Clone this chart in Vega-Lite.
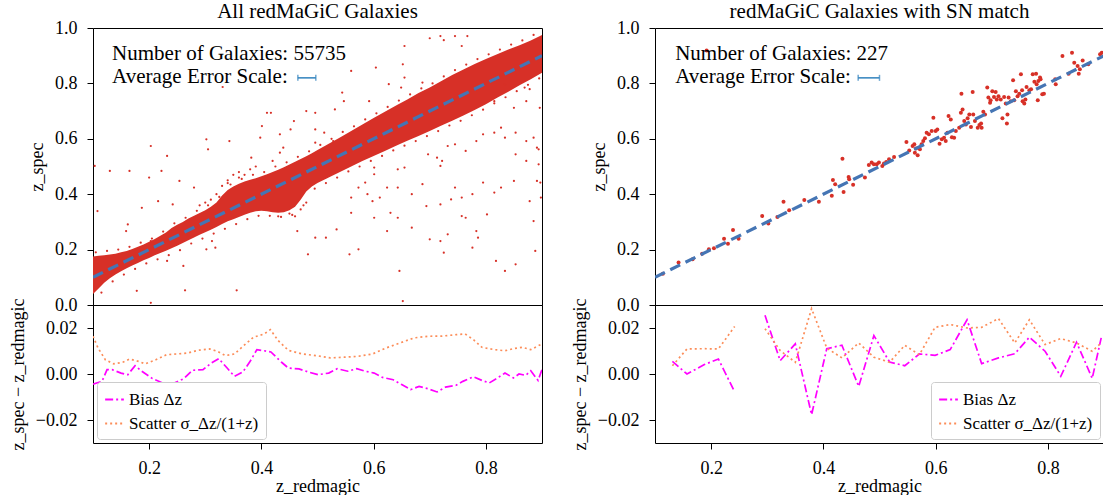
{
"$schema": "https://vega.github.io/schema/vega-lite/v6.json",
"padding": {"left": 8, "top": 0, "right": 0, "bottom": 0},
"config": {
  "font": "Liberation Serif",
  "view": {"stroke": "black", "strokeWidth": 1},
  "axis": {"grid": false, "domain": false, "tickColor": "black", "tickSize": 6, "tickWidth": 1, "labelPadding": 10, "labelFont": "Liberation Serif", "labelFontSize": 18, "labelColor": "black", "titleFont": "Liberation Serif", "titleFontSize": 18, "titleFontWeight": "normal", "titleColor": "black", "titlePadding": 8},
  "title": {"font": "Liberation Serif", "fontSize": 21, "fontWeight": "normal", "color": "black", "offset": -3},
  "legend": {"symbolType": "stroke", "symbolStrokeWidth": 2, "symbolSize": 350, "labelFont": "Liberation Serif", "labelFontSize": 17, "labelColor": "black", "labelLimit": 400, "fillColor": "white", "strokeColor": "#cccccc", "padding": 7, "cornerRadius": 3, "offset": 4, "rowPadding": 5}
},
"datasets": {
  "envL": [
    {"x":0.10,"lo":0.040,"hi":0.175},{"x":0.11,"lo":0.060,"hi":0.178},{"x":0.12,"lo":0.080,"hi":0.180},{"x":0.13,"lo":0.097,"hi":0.182},
    {"x":0.14,"lo":0.110,"hi":0.185},{"x":0.15,"lo":0.122,"hi":0.190},{"x":0.16,"lo":0.133,"hi":0.195},{"x":0.17,"lo":0.143,"hi":0.202},
    {"x":0.18,"lo":0.152,"hi":0.210},{"x":0.19,"lo":0.162,"hi":0.218},{"x":0.20,"lo":0.170,"hi":0.228},{"x":0.21,"lo":0.180,"hi":0.238},
    {"x":0.22,"lo":0.188,"hi":0.250},{"x":0.23,"lo":0.196,"hi":0.262},{"x":0.24,"lo":0.205,"hi":0.278},{"x":0.25,"lo":0.214,"hi":0.290},
    {"x":0.26,"lo":0.224,"hi":0.300},{"x":0.27,"lo":0.234,"hi":0.312},{"x":0.28,"lo":0.244,"hi":0.322},{"x":0.29,"lo":0.254,"hi":0.332},
    {"x":0.30,"lo":0.263,"hi":0.342},{"x":0.31,"lo":0.272,"hi":0.355},{"x":0.32,"lo":0.282,"hi":0.370},{"x":0.33,"lo":0.292,"hi":0.395},
    {"x":0.34,"lo":0.302,"hi":0.415},{"x":0.35,"lo":0.310,"hi":0.428},{"x":0.36,"lo":0.318,"hi":0.438},{"x":0.37,"lo":0.326,"hi":0.446},
    {"x":0.38,"lo":0.333,"hi":0.452},{"x":0.39,"lo":0.338,"hi":0.458},{"x":0.40,"lo":0.340,"hi":0.465},{"x":0.41,"lo":0.338,"hi":0.472},
    {"x":0.42,"lo":0.335,"hi":0.480},{"x":0.43,"lo":0.333,"hi":0.488},{"x":0.44,"lo":0.335,"hi":0.497},{"x":0.45,"lo":0.342,"hi":0.507},
    {"x":0.46,"lo":0.355,"hi":0.517},{"x":0.47,"lo":0.380,"hi":0.527},{"x":0.48,"lo":0.410,"hi":0.537},{"x":0.49,"lo":0.428,"hi":0.548},
    {"x":0.50,"lo":0.440,"hi":0.560},{"x":0.52,"lo":0.460,"hi":0.582},{"x":0.54,"lo":0.480,"hi":0.605},{"x":0.56,"lo":0.500,"hi":0.628},
    {"x":0.58,"lo":0.520,"hi":0.652},{"x":0.60,"lo":0.538,"hi":0.675},{"x":0.62,"lo":0.556,"hi":0.698},{"x":0.64,"lo":0.575,"hi":0.720},
    {"x":0.66,"lo":0.593,"hi":0.742},{"x":0.68,"lo":0.610,"hi":0.765},{"x":0.70,"lo":0.628,"hi":0.785},{"x":0.72,"lo":0.647,"hi":0.808},
    {"x":0.74,"lo":0.665,"hi":0.830},{"x":0.76,"lo":0.684,"hi":0.850},{"x":0.78,"lo":0.704,"hi":0.870},{"x":0.80,"lo":0.725,"hi":0.888},
    {"x":0.82,"lo":0.748,"hi":0.905},{"x":0.84,"lo":0.770,"hi":0.922},{"x":0.86,"lo":0.793,"hi":0.938},{"x":0.88,"lo":0.815,"hi":0.955},
    {"x":0.90,"lo":0.838,"hi":0.975}
  ],
  "ptsL": [
    {"x":0.655,"y":0.935},{"x":0.700,"y":0.963},{"x":0.719,"y":0.971},{"x":0.745,"y":0.971},{"x":0.767,"y":0.971},{"x":0.725,"y":0.956},
    {"x":0.757,"y":0.935},{"x":0.604,"y":0.857},{"x":0.652,"y":0.869},{"x":0.560,"y":0.845},{"x":0.544,"y":0.767},{"x":0.547,"y":0.736},
    {"x":0.480,"y":0.700},{"x":0.410,"y":0.694},{"x":0.417,"y":0.694},{"x":0.531,"y":0.706},{"x":0.592,"y":0.736},{"x":0.331,"y":0.787},
    {"x":0.649,"y":0.785},{"x":0.496,"y":0.634},{"x":0.512,"y":0.622},{"x":0.573,"y":0.628},{"x":0.601,"y":0.496},{"x":0.585,"y":0.442},
    {"x":0.601,"y":0.472},{"x":0.589,"y":0.400},{"x":0.643,"y":0.490},{"x":0.655,"y":0.496},{"x":0.697,"y":0.544},{"x":0.713,"y":0.532},
    {"x":0.722,"y":0.520},{"x":0.719,"y":0.502},{"x":0.732,"y":0.574},{"x":0.745,"y":0.580},{"x":0.764,"y":0.556},{"x":0.783,"y":0.592},
    {"x":0.795,"y":0.616},{"x":0.815,"y":0.622},{"x":0.834,"y":0.604},{"x":0.853,"y":0.622},{"x":0.872,"y":0.592},{"x":0.885,"y":0.604},
    {"x":0.891,"y":0.568},{"x":0.853,"y":0.544},{"x":0.872,"y":0.520},{"x":0.894,"y":0.508},{"x":0.891,"y":0.448},{"x":0.850,"y":0.448},
    {"x":0.827,"y":0.424},{"x":0.815,"y":0.406},{"x":0.795,"y":0.442},{"x":0.776,"y":0.400},{"x":0.757,"y":0.388},{"x":0.745,"y":0.424},
    {"x":0.719,"y":0.363},{"x":0.687,"y":0.436},{"x":0.668,"y":0.400},{"x":0.643,"y":0.424},{"x":0.624,"y":0.424},{"x":0.611,"y":0.388},
    {"x":0.598,"y":0.375},{"x":0.573,"y":0.424},{"x":0.560,"y":0.388},{"x":0.694,"y":0.357},{"x":0.738,"y":0.381},{"x":0.802,"y":0.327},
    {"x":0.764,"y":0.315},{"x":0.757,"y":0.321},{"x":0.732,"y":0.255},{"x":0.783,"y":0.267},{"x":0.700,"y":0.237},{"x":0.719,"y":0.231},
    {"x":0.643,"y":0.315},{"x":0.668,"y":0.279},{"x":0.630,"y":0.333},{"x":0.601,"y":0.315},{"x":0.560,"y":0.333},{"x":0.534,"y":0.273},
    {"x":0.496,"y":0.243},{"x":0.515,"y":0.243},{"x":0.573,"y":0.201},{"x":0.557,"y":0.183},{"x":0.624,"y":0.267},{"x":0.646,"y":0.123},
    {"x":0.652,"y":0.014},{"x":0.725,"y":0.189},{"x":0.776,"y":0.207},{"x":0.786,"y":0.243},{"x":0.818,"y":0.159},{"x":0.834,"y":0.123},
    {"x":0.853,"y":0.147},{"x":0.888,"y":0.195},{"x":0.885,"y":0.303},{"x":0.878,"y":0.375},{"x":0.896,"y":0.712},{"x":0.894,"y":0.562},
    {"x":0.897,"y":0.442},{"x":0.898,"y":0.388},{"x":0.401,"y":0.646},{"x":0.398,"y":0.604},{"x":0.433,"y":0.616},{"x":0.452,"y":0.634},
    {"x":0.439,"y":0.568},{"x":0.496,"y":0.586},{"x":0.528,"y":0.592},{"x":0.302,"y":0.598},{"x":0.305,"y":0.562},{"x":0.232,"y":0.538},
    {"x":0.222,"y":0.484},{"x":0.203,"y":0.574},{"x":0.187,"y":0.351},{"x":0.165,"y":0.484},{"x":0.162,"y":0.291},{"x":0.203,"y":0.231},
    {"x":0.200,"y":0.460},{"x":0.159,"y":0.267},{"x":0.232,"y":0.159},{"x":0.235,"y":0.231},{"x":0.261,"y":0.141},{"x":0.264,"y":0.053},
    {"x":0.178,"y":0.051},{"x":0.203,"y":0.008},{"x":0.130,"y":0.484},{"x":0.108,"y":0.339},{"x":0.103,"y":0.502},{"x":0.356,"y":0.053},
    {"x":0.318,"y":0.207},{"x":0.267,"y":0.255},{"x":0.242,"y":0.363},{"x":0.280,"y":0.424},{"x":0.254,"y":0.448},{"x":0.216,"y":0.375},
    {"x":0.356,"y":0.351},{"x":0.382,"y":0.375},{"x":0.343,"y":0.592},{"x":0.382,"y":0.532},{"x":0.302,"y":0.201},{"x":0.312,"y":0.231},
    {"x":0.850,"y":0.712},{"x":0.827,"y":0.640},{"x":0.815,"y":0.736},{"x":0.869,"y":0.785},{"x":0.878,"y":0.779},{"x":0.834,"y":0.797},
    {"x":0.872,"y":0.736},{"x":0.687,"y":0.803},{"x":0.627,"y":0.797},{"x":0.655,"y":0.821},{"x":0.496,"y":0.694},{"x":0.458,"y":0.664},
    {"x":0.433,"y":0.550},{"x":0.420,"y":0.520},{"x":0.464,"y":0.267},{"x":0.483,"y":0.183},
    {"x":0.29,"y":0.360},{"x":0.30,"y":0.370},{"x":0.31,"y":0.380},{"x":0.32,"y":0.400},{"x":0.33,"y":0.430},{"x":0.34,"y":0.450},
    {"x":0.35,"y":0.470},{"x":0.36,"y":0.480},{"x":0.37,"y":0.470},{"x":0.38,"y":0.490},{"x":0.39,"y":0.500},{"x":0.36,"y":0.460},
    {"x":0.34,"y":0.440},{"x":0.43,"y":0.320},{"x":0.45,"y":0.330},{"x":0.47,"y":0.345},{"x":0.48,"y":0.370},{"x":0.46,"y":0.320},
    {"x":0.105,"y":0.190},{"x":0.125,"y":0.195},{"x":0.145,"y":0.200},{"x":0.165,"y":0.210},{"x":0.185,"y":0.225},{"x":0.205,"y":0.240},
    {"x":0.225,"y":0.265},{"x":0.245,"y":0.295},{"x":0.265,"y":0.315},{"x":0.285,"y":0.340},{"x":0.305,"y":0.360},{"x":0.325,"y":0.390},
    {"x":0.345,"y":0.435},{"x":0.365,"y":0.455},{"x":0.385,"y":0.470},{"x":0.405,"y":0.480},{"x":0.425,"y":0.500},{"x":0.445,"y":0.515},
    {"x":0.465,"y":0.535},{"x":0.485,"y":0.555},{"x":0.505,"y":0.578},{"x":0.525,"y":0.600},{"x":0.545,"y":0.625},{"x":0.565,"y":0.645},
    {"x":0.585,"y":0.670},{"x":0.605,"y":0.692},{"x":0.625,"y":0.715},{"x":0.645,"y":0.738},{"x":0.665,"y":0.760},{"x":0.685,"y":0.782},
    {"x":0.705,"y":0.800},{"x":0.725,"y":0.825},{"x":0.745,"y":0.848},{"x":0.765,"y":0.868},{"x":0.785,"y":0.888},{"x":0.805,"y":0.905},
    {"x":0.825,"y":0.922},{"x":0.845,"y":0.940},{"x":0.865,"y":0.955},{"x":0.885,"y":0.975},
    {"x":0.115,"y":0.045},{"x":0.135,"y":0.085},{"x":0.155,"y":0.110},{"x":0.175,"y":0.130},{"x":0.195,"y":0.150},{"x":0.215,"y":0.165},
    {"x":0.235,"y":0.180},{"x":0.255,"y":0.198},{"x":0.275,"y":0.222},{"x":0.295,"y":0.240},{"x":0.315,"y":0.258},{"x":0.335,"y":0.275},
    {"x":0.355,"y":0.292},{"x":0.375,"y":0.310},{"x":0.395,"y":0.322},{"x":0.415,"y":0.322},{"x":0.435,"y":0.318},{"x":0.455,"y":0.325},
    {"x":0.475,"y":0.360},{"x":0.495,"y":0.420},{"x":0.515,"y":0.440},{"x":0.535,"y":0.460},{"x":0.555,"y":0.482},{"x":0.575,"y":0.500},
    {"x":0.595,"y":0.520},{"x":0.615,"y":0.538},{"x":0.635,"y":0.558},{"x":0.655,"y":0.575},{"x":0.675,"y":0.592},{"x":0.695,"y":0.610},
    {"x":0.715,"y":0.628},{"x":0.735,"y":0.648},{"x":0.755,"y":0.665},{"x":0.775,"y":0.685},{"x":0.795,"y":0.705},{"x":0.815,"y":0.728},
    {"x":0.835,"y":0.750},{"x":0.855,"y":0.772},{"x":0.875,"y":0.795},{"x":0.895,"y":0.818}
  ],
  "ptsR": [
    {"x":0.114,"y":0.113},{"x":0.142,"y":0.153},{"x":0.167,"y":0.165},{"x":0.184,"y":0.185},{"x":0.196,"y":0.201},{"x":0.205,"y":0.205},
    {"x":0.223,"y":0.239},{"x":0.230,"y":0.221},{"x":0.239,"y":0.271},{"x":0.249,"y":0.239},{"x":0.291,"y":0.321},{"x":0.302,"y":0.294},
    {"x":0.318,"y":0.318},{"x":0.329,"y":0.373},{"x":0.339,"y":0.342},{"x":0.366,"y":0.379},{"x":0.392,"y":0.373},{"x":0.415,"y":0.394},
    {"x":0.417,"y":0.451},{"x":0.421,"y":0.436},{"x":0.434,"y":0.528},{"x":0.436,"y":0.408},{"x":0.445,"y":0.462},{"x":0.446,"y":0.454},
    {"x":0.453,"y":0.434},{"x":0.474,"y":0.460},{"x":0.481,"y":0.505},{"x":0.486,"y":0.514},{"x":0.490,"y":0.508},{"x":0.495,"y":0.508},
    {"x":0.499,"y":0.514},{"x":0.505,"y":0.502},{"x":0.508,"y":0.511},{"x":0.512,"y":0.516},{"x":0.517,"y":0.526},{"x":0.526,"y":0.534},
    {"x":0.548,"y":0.588},{"x":0.553,"y":0.558},{"x":0.559,"y":0.574},{"x":0.562,"y":0.580},{"x":0.563,"y":0.550},{"x":0.565,"y":0.565},
    {"x":0.568,"y":0.541},{"x":0.572,"y":0.562},{"x":0.575,"y":0.580},{"x":0.578,"y":0.592},{"x":0.581,"y":0.602},{"x":0.584,"y":0.622},
    {"x":0.588,"y":0.616},{"x":0.593,"y":0.628},{"x":0.596,"y":0.676},{"x":0.600,"y":0.628},{"x":0.603,"y":0.634},{"x":0.607,"y":0.582},
    {"x":0.611,"y":0.598},{"x":0.615,"y":0.604},{"x":0.618,"y":0.592},{"x":0.621,"y":0.622},{"x":0.623,"y":0.682},{"x":0.627,"y":0.670},
    {"x":0.629,"y":0.606},{"x":0.633,"y":0.604},{"x":0.636,"y":0.628},{"x":0.642,"y":0.640},{"x":0.645,"y":0.694},{"x":0.646,"y":0.763},
    {"x":0.648,"y":0.706},{"x":0.651,"y":0.664},{"x":0.654,"y":0.652},{"x":0.657,"y":0.674},{"x":0.660,"y":0.688},{"x":0.663,"y":0.643},
    {"x":0.666,"y":0.769},{"x":0.667,"y":0.688},{"x":0.670,"y":0.664},{"x":0.675,"y":0.640},{"x":0.678,"y":0.650},{"x":0.681,"y":0.655},
    {"x":0.682,"y":0.640},{"x":0.685,"y":0.698},{"x":0.688,"y":0.688},{"x":0.692,"y":0.785},{"x":0.694,"y":0.749},{"x":0.697,"y":0.730},
    {"x":0.698,"y":0.739},{"x":0.701,"y":0.772},{"x":0.704,"y":0.751},{"x":0.707,"y":0.769},{"x":0.709,"y":0.742},{"x":0.712,"y":0.754},
    {"x":0.716,"y":0.742},{"x":0.719,"y":0.674},{"x":0.722,"y":0.751},{"x":0.725,"y":0.727},{"x":0.727,"y":0.655},{"x":0.728,"y":0.688},
    {"x":0.730,"y":0.749},{"x":0.734,"y":0.736},{"x":0.738,"y":0.811},{"x":0.740,"y":0.739},{"x":0.743,"y":0.772},{"x":0.746,"y":0.754},
    {"x":0.749,"y":0.763},{"x":0.752,"y":0.833},{"x":0.754,"y":0.775},{"x":0.755,"y":0.736},{"x":0.758,"y":0.727},{"x":0.760,"y":0.742},
    {"x":0.762,"y":0.787},{"x":0.767,"y":0.775},{"x":0.770,"y":0.779},{"x":0.773,"y":0.833},{"x":0.776,"y":0.806},{"x":0.779,"y":0.835},
    {"x":0.780,"y":0.797},{"x":0.782,"y":0.739},{"x":0.783,"y":0.809},{"x":0.786,"y":0.821},{"x":0.787,"y":0.815},{"x":0.790,"y":0.761},
    {"x":0.793,"y":0.763},{"x":0.813,"y":0.815},{"x":0.814,"y":0.797},{"x":0.826,"y":0.899},{"x":0.837,"y":0.835},{"x":0.843,"y":0.911},
    {"x":0.847,"y":0.875},{"x":0.853,"y":0.863},{"x":0.855,"y":0.835},{"x":0.857,"y":0.851},{"x":0.862,"y":0.883},{"x":0.872,"y":0.869},
    {"x":0.192,"y":0.919},{"x":0.896,"y":0.911},{"x":0.893,"y":0.905}
  ],
  "diag": [{"x":0.1,"y":0.1},{"x":0.9,"y":0.9}],
  "txtL": [{"x":0.134,"y":0.906,"t":"Number of Galaxies: 55735"},{"x":0.134,"y":0.824,"t":"Average Error Scale:"}],
  "txtR": [{"x":0.136,"y":0.906,"t":"Number of Galaxies: 227"},{"x":0.136,"y":0.824,"t":"Average Error Scale:"}],
  "errL": [{"x":0.465,"y":0.82},{"x":0.497,"y":0.82}],
  "errR": [{"x":0.462,"y":0.82},{"x":0.500,"y":0.82}],
  "resL": [
    {"x":0.100,"v":-0.0044,"s":"Bias Δz"},{"x":0.116,"v":-0.0032,"s":"Bias Δz"},{"x":0.125,"v":0.0019,"s":"Bias Δz"},{"x":0.134,"v":0.0019,"s":"Bias Δz"},
    {"x":0.150,"v":0.0004,"s":"Bias Δz"},{"x":0.162,"v":-0.0003,"s":"Bias Δz"},{"x":0.175,"v":0.0036,"s":"Bias Δz"},{"x":0.187,"v":0.0012,"s":"Bias Δz"},
    {"x":0.206,"v":-0.0020,"s":"Bias Δz"},{"x":0.224,"v":-0.0039,"s":"Bias Δz"},{"x":0.243,"v":-0.0041,"s":"Bias Δz"},{"x":0.262,"v":-0.0020,"s":"Bias Δz"},
    {"x":0.277,"v":0.0016,"s":"Bias Δz"},{"x":0.296,"v":0.0019,"s":"Bias Δz"},{"x":0.311,"v":0.0048,"s":"Bias Δz"},{"x":0.324,"v":0.0067,"s":"Bias Δz"},
    {"x":0.339,"v":0.0026,"s":"Bias Δz"},{"x":0.352,"v":-0.0010,"s":"Bias Δz"},{"x":0.367,"v":0.0009,"s":"Bias Δz"},{"x":0.380,"v":0.0055,"s":"Bias Δz"},
    {"x":0.392,"v":0.0106,"s":"Bias Δz"},{"x":0.405,"v":0.0101,"s":"Bias Δz"},{"x":0.417,"v":0.0096,"s":"Bias Δz"},{"x":0.436,"v":0.0051,"s":"Bias Δz"},
    {"x":0.448,"v":0.0026,"s":"Bias Δz"},{"x":0.467,"v":0.0022,"s":"Bias Δz"},{"x":0.486,"v":0.0007,"s":"Bias Δz"},{"x":0.501,"v":-0.0003,"s":"Bias Δz"},
    {"x":0.520,"v":0.0004,"s":"Bias Δz"},{"x":0.535,"v":0.0023,"s":"Bias Δz"},{"x":0.554,"v":0.0012,"s":"Bias Δz"},{"x":0.570,"v":0.0023,"s":"Bias Δz"},
    {"x":0.585,"v":0.0012,"s":"Bias Δz"},{"x":0.601,"v":0.0004,"s":"Bias Δz"},{"x":0.616,"v":-0.0015,"s":"Bias Δz"},{"x":0.635,"v":-0.0025,"s":"Bias Δz"},
    {"x":0.650,"v":-0.0046,"s":"Bias Δz"},{"x":0.666,"v":-0.0068,"s":"Bias Δz"},{"x":0.681,"v":-0.0054,"s":"Bias Δz"},{"x":0.697,"v":-0.0064,"s":"Bias Δz"},
    {"x":0.713,"v":-0.0078,"s":"Bias Δz"},{"x":0.728,"v":-0.0057,"s":"Bias Δz"},{"x":0.747,"v":-0.0049,"s":"Bias Δz"},{"x":0.759,"v":-0.0032,"s":"Bias Δz"},
    {"x":0.778,"v":-0.0012,"s":"Bias Δz"},{"x":0.793,"v":-0.0028,"s":"Bias Δz"},{"x":0.806,"v":-0.0039,"s":"Bias Δz"},{"x":0.821,"v":-0.0017,"s":"Bias Δz"},
    {"x":0.834,"v":0.0004,"s":"Bias Δz"},{"x":0.849,"v":-0.0017,"s":"Bias Δz"},{"x":0.859,"v":0.0000,"s":"Bias Δz"},{"x":0.871,"v":-0.0006,"s":"Bias Δz"},
    {"x":0.880,"v":0.0014,"s":"Bias Δz"},{"x":0.893,"v":-0.0028,"s":"Bias Δz"},{"x":0.900,"v":0.0019,"s":"Bias Δz"},
    {"x":0.100,"v":0.0164,"s":"Scatter σ_Δz/(1+z)"},{"x":0.109,"v":0.0113,"s":"Scatter σ_Δz/(1+z)"},{"x":0.122,"v":0.0062,"s":"Scatter σ_Δz/(1+z)"},
    {"x":0.137,"v":0.0044,"s":"Scatter σ_Δz/(1+z)"},{"x":0.153,"v":0.0051,"s":"Scatter σ_Δz/(1+z)"},{"x":0.165,"v":0.0065,"s":"Scatter σ_Δz/(1+z)"},
    {"x":0.181,"v":0.0055,"s":"Scatter σ_Δz/(1+z)"},{"x":0.193,"v":0.0044,"s":"Scatter σ_Δz/(1+z)"},{"x":0.212,"v":0.0062,"s":"Scatter σ_Δz/(1+z)"},
    {"x":0.231,"v":0.0084,"s":"Scatter σ_Δz/(1+z)"},{"x":0.249,"v":0.0087,"s":"Scatter σ_Δz/(1+z)"},{"x":0.268,"v":0.0091,"s":"Scatter σ_Δz/(1+z)"},
    {"x":0.287,"v":0.0103,"s":"Scatter σ_Δz/(1+z)"},{"x":0.308,"v":0.0109,"s":"Scatter σ_Δz/(1+z)"},{"x":0.321,"v":0.0099,"s":"Scatter σ_Δz/(1+z)"},
    {"x":0.336,"v":0.0080,"s":"Scatter σ_Δz/(1+z)"},{"x":0.352,"v":0.0087,"s":"Scatter σ_Δz/(1+z)"},{"x":0.367,"v":0.0120,"s":"Scatter σ_Δz/(1+z)"},
    {"x":0.386,"v":0.0160,"s":"Scatter σ_Δz/(1+z)"},{"x":0.405,"v":0.0174,"s":"Scatter σ_Δz/(1+z)"},{"x":0.416,"v":0.0193,"s":"Scatter σ_Δz/(1+z)"},
    {"x":0.430,"v":0.0145,"s":"Scatter σ_Δz/(1+z)"},{"x":0.448,"v":0.0103,"s":"Scatter σ_Δz/(1+z)"},{"x":0.473,"v":0.0087,"s":"Scatter σ_Δz/(1+z)"},
    {"x":0.498,"v":0.0080,"s":"Scatter σ_Δz/(1+z)"},{"x":0.523,"v":0.0070,"s":"Scatter σ_Δz/(1+z)"},{"x":0.548,"v":0.0073,"s":"Scatter σ_Δz/(1+z)"},
    {"x":0.573,"v":0.0077,"s":"Scatter σ_Δz/(1+z)"},{"x":0.598,"v":0.0087,"s":"Scatter σ_Δz/(1+z)"},{"x":0.622,"v":0.0113,"s":"Scatter σ_Δz/(1+z)"},
    {"x":0.647,"v":0.0135,"s":"Scatter σ_Δz/(1+z)"},{"x":0.672,"v":0.0157,"s":"Scatter σ_Δz/(1+z)"},{"x":0.697,"v":0.0164,"s":"Scatter σ_Δz/(1+z)"},
    {"x":0.722,"v":0.0165,"s":"Scatter σ_Δz/(1+z)"},{"x":0.747,"v":0.0171,"s":"Scatter σ_Δz/(1+z)"},{"x":0.763,"v":0.0174,"s":"Scatter σ_Δz/(1+z)"},
    {"x":0.778,"v":0.0149,"s":"Scatter σ_Δz/(1+z)"},{"x":0.793,"v":0.0116,"s":"Scatter σ_Δz/(1+z)"},{"x":0.815,"v":0.0106,"s":"Scatter σ_Δz/(1+z)"},
    {"x":0.834,"v":0.0101,"s":"Scatter σ_Δz/(1+z)"},{"x":0.849,"v":0.0110,"s":"Scatter σ_Δz/(1+z)"},{"x":0.865,"v":0.0116,"s":"Scatter σ_Δz/(1+z)"},
    {"x":0.880,"v":0.0106,"s":"Scatter σ_Δz/(1+z)"},{"x":0.900,"v":0.0131,"s":"Scatter σ_Δz/(1+z)"}
  ],
  "resR": [
    {"x":0.131,"v":0.0055,"s":"Bias Δz"},{"x":0.157,"v":0.0000,"s":"Bias Δz"},{"x":0.188,"v":0.0041,"s":"Bias Δz"},{"x":0.213,"v":0.0065,"s":"Bias Δz"},
    {"x":0.242,"v":-0.0078,"s":"Bias Δz"},{"x":0.269,"v":null,"s":"Bias Δz"},{"x":0.296,"v":0.0255,"s":"Bias Δz"},{"x":0.323,"v":0.0058,"s":"Bias Δz"},
    {"x":0.350,"v":0.0131,"s":"Bias Δz"},{"x":0.379,"v":-0.0177,"s":"Bias Δz"},{"x":0.406,"v":0.0110,"s":"Bias Δz"},{"x":0.433,"v":0.0125,"s":"Bias Δz"},
    {"x":0.463,"v":-0.0054,"s":"Bias Δz"},{"x":0.490,"v":0.0167,"s":"Bias Δz"},{"x":0.518,"v":0.0052,"s":"Bias Δz"},{"x":0.545,"v":0.0036,"s":"Bias Δz"},
    {"x":0.571,"v":0.0087,"s":"Bias Δz"},{"x":0.599,"v":0.0081,"s":"Bias Δz"},{"x":0.626,"v":0.0106,"s":"Bias Δz"},{"x":0.656,"v":0.0236,"s":"Bias Δz"},
    {"x":0.682,"v":0.0045,"s":"Bias Δz"},{"x":0.712,"v":0.0070,"s":"Bias Δz"},{"x":0.741,"v":0.0088,"s":"Bias Δz"},{"x":0.767,"v":0.0160,"s":"Bias Δz"},
    {"x":0.795,"v":0.0099,"s":"Bias Δz"},{"x":0.823,"v":-0.0010,"s":"Bias Δz"},{"x":0.851,"v":0.0138,"s":"Bias Δz"},{"x":0.879,"v":-0.0019,"s":"Bias Δz"},
    {"x":0.895,"v":0.0157,"s":"Bias Δz"},
    {"x":0.131,"v":0.0036,"s":"Scatter σ_Δz/(1+z)"},{"x":0.157,"v":0.0109,"s":"Scatter σ_Δz/(1+z)"},{"x":0.188,"v":0.0110,"s":"Scatter σ_Δz/(1+z)"},
    {"x":0.213,"v":0.0109,"s":"Scatter σ_Δz/(1+z)"},{"x":0.242,"v":0.0207,"s":"Scatter σ_Δz/(1+z)"},{"x":0.269,"v":null,"s":"Scatter σ_Δz/(1+z)"},
    {"x":0.296,"v":0.0197,"s":"Scatter σ_Δz/(1+z)"},{"x":0.323,"v":0.0102,"s":"Scatter σ_Δz/(1+z)"},{"x":0.350,"v":0.0051,"s":"Scatter σ_Δz/(1+z)"},
    {"x":0.379,"v":0.0284,"s":"Scatter σ_Δz/(1+z)"},{"x":0.406,"v":0.0113,"s":"Scatter σ_Δz/(1+z)"},{"x":0.433,"v":0.0070,"s":"Scatter σ_Δz/(1+z)"},
    {"x":0.463,"v":0.0135,"s":"Scatter σ_Δz/(1+z)"},{"x":0.490,"v":0.0073,"s":"Scatter σ_Δz/(1+z)"},{"x":0.518,"v":0.0051,"s":"Scatter σ_Δz/(1+z)"},
    {"x":0.545,"v":0.0125,"s":"Scatter σ_Δz/(1+z)"},{"x":0.571,"v":0.0084,"s":"Scatter σ_Δz/(1+z)"},{"x":0.599,"v":0.0203,"s":"Scatter σ_Δz/(1+z)"},
    {"x":0.626,"v":0.0215,"s":"Scatter σ_Δz/(1+z)"},{"x":0.656,"v":0.0200,"s":"Scatter σ_Δz/(1+z)"},{"x":0.682,"v":0.0203,"s":"Scatter σ_Δz/(1+z)"},
    {"x":0.712,"v":0.0241,"s":"Scatter σ_Δz/(1+z)"},{"x":0.741,"v":0.0135,"s":"Scatter σ_Δz/(1+z)"},{"x":0.767,"v":0.0236,"s":"Scatter σ_Δz/(1+z)"},
    {"x":0.795,"v":0.0128,"s":"Scatter σ_Δz/(1+z)"},{"x":0.823,"v":0.0154,"s":"Scatter σ_Δz/(1+z)"},{"x":0.851,"v":0.0135,"s":"Scatter σ_Δz/(1+z)"},
    {"x":0.879,"v":0.0099,"s":"Scatter σ_Δz/(1+z)"},{"x":0.895,"v":0.0135,"s":"Scatter σ_Δz/(1+z)"}
  ]
},
"spacing": 27,
"resolve": {"scale": {"color": "independent", "strokeDash": "independent"}, "legend": {"color": "independent", "strokeDash": "independent"}},
"hconcat": [
  {
    "spacing": 0,
    "bounds": "flush",
    "resolve": {"scale": {"color": "independent", "strokeDash": "independent"}, "legend": {"color": "independent", "strokeDash": "independent"}},
    "vconcat": [
      {
        "width": 449, "height": 277,
        "title": "All redMaGiC Galaxies",
        "encoding": {
          "x": {"field": "x", "type": "quantitative", "scale": {"domain": [0.1, 0.9], "nice": false, "zero": false}, "axis": null},
          "y": {"field": "y", "type": "quantitative", "scale": {"domain": [0, 1], "nice": false}, "axis": {"values": [0, 0.2, 0.4, 0.6, 0.8, 1.0], "format": ".1f", "title": "z_spec"}}
        },
        "layer": [
          {"data": {"name": "envL"}, "mark": {"type": "area", "color": "#d73027", "clip": true},
           "encoding": {"y": {"field": "lo", "type": "quantitative", "title": "z_spec"}, "y2": {"field": "hi"}}},
          {"data": {"name": "ptsL"}, "mark": {"type": "circle", "color": "#d73027", "size": 5, "opacity": 1, "clip": true}},
          {"data": {"name": "diag"}, "mark": {"type": "line", "color": "#4575b4", "strokeWidth": 3.2, "strokeDash": [11, 6], "clip": true}},
          {"data": {"name": "txtL"}, "mark": {"type": "text", "align": "left", "baseline": "middle", "fontSize": 21, "color": "black", "font": "Liberation Serif"},
           "encoding": {"text": {"field": "t"}}},
          {"data": {"name": "errL"}, "mark": {"type": "line", "color": "#3182bd", "strokeWidth": 1.5}},
          {"data": {"name": "errL"}, "mark": {"type": "tick", "orient": "vertical", "color": "#3182bd", "size": 6, "thickness": 1.5}}
        ]
      },
      {
        "width": 449, "height": 138,
        "layer": [
          {"mark": {"type": "rule", "color": "black", "strokeWidth": 1}, "encoding": {"y": {"datum": 0, "type": "quantitative"}}},
          {"data": {"name": "resL"}, "mark": {"type": "line", "clip": true, "strokeWidth": 1.7},
           "encoding": {
             "x": {"field": "x", "type": "quantitative", "scale": {"domain": [0.1, 0.9], "nice": false, "zero": false}, "axis": {"values": [0.2, 0.4, 0.6, 0.8], "format": ".1f", "title": "z_redmagic", "labelPadding": 10, "titlePadding": 0}},
             "y": {"field": "v", "type": "quantitative", "scale": {"domain": [-0.03, 0.03], "nice": false, "zero": false}, "axis": {"values": [-0.02, 0, 0.02], "format": ".2f", "title": "z_spec − z_redmagic"}},
             "color": {"field": "s", "type": "nominal", "scale": {"domain": ["Bias Δz", "Scatter σ_Δz/(1+z)"], "range": ["#ff00ff", "#fc8d59"]}, "legend": {"title": null, "orient": "bottom-left"}},
             "strokeDash": {"field": "s", "type": "nominal", "scale": {"domain": ["Bias Δz", "Scatter σ_Δz/(1+z)"], "range": [[8, 3, 2, 3], [2, 3]]}, "legend": {"title": null, "orient": "bottom-left"}}
           }}
        ]
      }
    ]
  },
  {
    "spacing": 0,
    "bounds": "flush",
    "resolve": {"scale": {"color": "independent", "strokeDash": "independent"}, "legend": {"color": "independent", "strokeDash": "independent"}},
    "vconcat": [
      {
        "width": 449, "height": 277,
        "title": "redMaGiC Galaxies with SN match",
        "encoding": {
          "x": {"field": "x", "type": "quantitative", "scale": {"domain": [0.1, 0.9], "nice": false, "zero": false}, "axis": null},
          "y": {"field": "y", "type": "quantitative", "scale": {"domain": [0, 1], "nice": false}, "axis": {"values": [0, 0.2, 0.4, 0.6, 0.8, 1.0], "format": ".1f", "title": "z_spec"}}
        },
        "layer": [
          {"data": {"name": "ptsR"}, "mark": {"type": "circle", "color": "#d73027", "size": 16, "opacity": 1, "clip": true}},
          {"data": {"name": "diag"}, "mark": {"type": "line", "color": "#4575b4", "strokeWidth": 3.2, "strokeDash": [11, 6], "clip": true}},
          {"data": {"name": "txtR"}, "mark": {"type": "text", "align": "left", "baseline": "middle", "fontSize": 21, "color": "black", "font": "Liberation Serif"},
           "encoding": {"text": {"field": "t"}}},
          {"data": {"name": "errR"}, "mark": {"type": "line", "color": "#3182bd", "strokeWidth": 1.5}},
          {"data": {"name": "errR"}, "mark": {"type": "tick", "orient": "vertical", "color": "#3182bd", "size": 6, "thickness": 1.5}}
        ]
      },
      {
        "width": 449, "height": 138,
        "layer": [
          {"mark": {"type": "rule", "color": "black", "strokeWidth": 1}, "encoding": {"y": {"datum": 0, "type": "quantitative"}}},
          {"data": {"name": "resR"}, "mark": {"type": "line", "clip": true, "strokeWidth": 1.7, "invalid": "break-paths-show-domains"},
           "encoding": {
             "x": {"field": "x", "type": "quantitative", "scale": {"domain": [0.1, 0.9], "nice": false, "zero": false}, "axis": {"values": [0.2, 0.4, 0.6, 0.8], "format": ".1f", "title": "z_redmagic", "labelPadding": 10, "titlePadding": 0}},
             "y": {"field": "v", "type": "quantitative", "scale": {"domain": [-0.03, 0.03], "nice": false, "zero": false}, "axis": {"values": [-0.02, 0, 0.02], "format": ".2f", "title": "z_spec − z_redmagic"}},
             "color": {"field": "s", "type": "nominal", "scale": {"domain": ["Bias Δz", "Scatter σ_Δz/(1+z)"], "range": ["#ff00ff", "#fc8d59"]}, "legend": {"title": null, "orient": "bottom-right"}},
             "strokeDash": {"field": "s", "type": "nominal", "scale": {"domain": ["Bias Δz", "Scatter σ_Δz/(1+z)"], "range": [[8, 3, 2, 3], [2, 3]]}, "legend": {"title": null, "orient": "bottom-right"}}
           }}
        ]
      }
    ]
  }
]
}
